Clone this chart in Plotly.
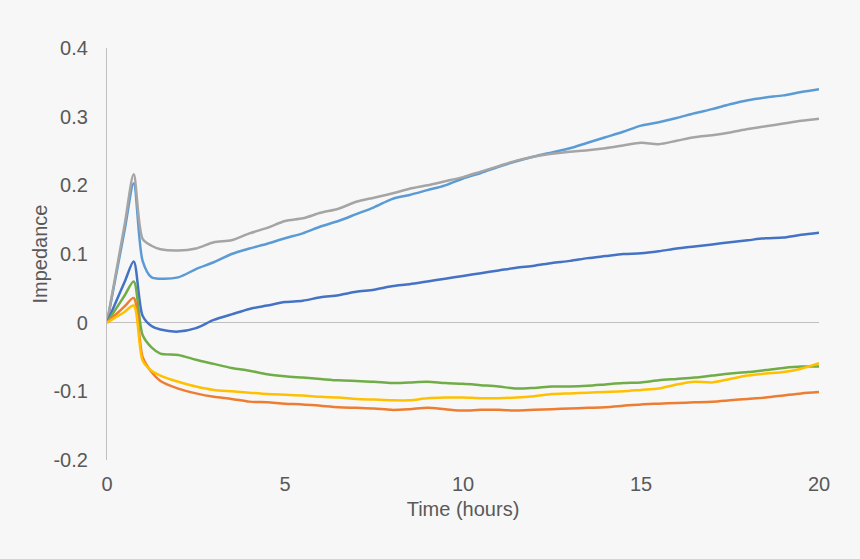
import plotly.graph_objects as go

hours = [0, 0.25, 0.5, 0.75, 1.0, 1.25, 1.5, 2, 2.5, 3, 3.5, 4, 4.5, 5, 5.5, 6, 6.5, 7, 7.5, 8,
         8.5, 9, 9.5, 10, 10.5, 11, 11.5, 12, 12.5, 13, 13.5, 14, 14.5, 15, 15.5, 16, 16.5, 17,
         17.5, 18, 18.5, 19, 19.5, 20]

light_blue = [0, 0.068, 0.136, 0.203, 0.09, 0.066, 0.064, 0.066, 0.078, 0.088, 0.1, 0.108, 0.115,
              0.123, 0.13, 0.14, 0.148, 0.158, 0.168, 0.18, 0.186, 0.193, 0.2, 0.21, 0.218, 0.227,
              0.235, 0.242, 0.248, 0.254, 0.262, 0.27, 0.278, 0.287, 0.292, 0.298, 0.305, 0.311,
              0.318, 0.324, 0.328, 0.331, 0.336, 0.34]

gray = [0, 0.072, 0.144, 0.216, 0.122, 0.112, 0.107, 0.105, 0.108, 0.117, 0.12, 0.13, 0.138, 0.148,
        0.152, 0.16, 0.166, 0.176, 0.182, 0.188, 0.195, 0.2, 0.206, 0.212, 0.22, 0.228, 0.236,
        0.242, 0.246, 0.249, 0.251, 0.254, 0.258, 0.262, 0.26, 0.265, 0.27, 0.273, 0.277, 0.282,
        0.286, 0.29, 0.294, 0.297]

dark_blue = [0, 0.03, 0.06, 0.089, 0.01, -0.005, -0.01, -0.013, -0.008, 0.004, 0.012, 0.02, 0.025,
             0.03, 0.032, 0.037, 0.04, 0.045, 0.048, 0.053, 0.056, 0.06, 0.064, 0.068, 0.072, 0.076,
             0.08, 0.083, 0.087, 0.09, 0.094, 0.097, 0.1, 0.101, 0.104, 0.108, 0.111, 0.114, 0.117,
             0.12, 0.123, 0.124, 0.128, 0.131]

green = [0, 0.02, 0.04, 0.06, -0.018, -0.036, -0.045, -0.047, -0.054, -0.06, -0.066, -0.07, -0.075,
         -0.078, -0.08, -0.082, -0.084, -0.085, -0.086, -0.088, -0.087, -0.086, -0.088, -0.089,
         -0.091, -0.093, -0.096, -0.095, -0.093, -0.093, -0.092, -0.09, -0.088, -0.087, -0.084,
         -0.082, -0.08, -0.077, -0.074, -0.072, -0.069, -0.066, -0.064, -0.064]

yellow = [0, 0.008, 0.016, 0.025, -0.055, -0.07, -0.077, -0.086, -0.093, -0.098, -0.1, -0.102,
          -0.104, -0.105, -0.106, -0.108, -0.109, -0.111, -0.112, -0.113, -0.113, -0.11, -0.109,
          -0.109, -0.11, -0.11, -0.109, -0.107, -0.104, -0.103, -0.102, -0.101, -0.1, -0.098,
          -0.096, -0.09, -0.086, -0.087, -0.082, -0.077, -0.074, -0.072, -0.067, -0.059]

orange = [0, 0.012, 0.024, 0.036, -0.05, -0.072, -0.085, -0.096, -0.103, -0.108, -0.111, -0.115,
          -0.116, -0.118, -0.119, -0.121, -0.123, -0.124, -0.125, -0.127, -0.126, -0.124, -0.126,
          -0.128, -0.127, -0.127, -0.128, -0.127, -0.126, -0.125, -0.124, -0.123, -0.121, -0.119,
          -0.118, -0.117, -0.116, -0.115, -0.113, -0.111, -0.109, -0.106, -0.103, -0.101]

series = [
    ("Series 1", light_blue, "#5B9BD5"),
    ("Series 2", gray, "#A5A5A5"),
    ("Series 3", dark_blue, "#4472C4"),
    ("Series 4", green, "#70AD47"),
    ("Series 5", orange, "#ED7D31"),
    ("Series 6", yellow, "#FFC000"),
]

y_ticks = [0.4, 0.3, 0.2, 0.1, 0, -0.1, -0.2]
y_tick_text = ["0.4", "0.3", "0.2", "0.1", "0", "-0.1", "-0.2"]
x_ticks = [0, 5, 10, 15, 20]

fig = go.Figure()
for name, vals, color in series:
    fig.add_trace(go.Scatter(x=hours, y=vals, mode="lines", name=name,
                             line=dict(color=color, width=2.5, shape="spline", smoothing=0.8)))

font_color = "#595959"
fig.update_layout(
    width=860, height=559,
    margin=dict(l=107, r=41, t=48, b=99),
    paper_bgcolor="#f7f7f7", plot_bgcolor="#f7f7f7",
    showlegend=False,
    font=dict(family="Liberation Sans, Arial, sans-serif", size=20, color=font_color),
    xaxis=dict(range=[0, 20], tickvals=x_ticks, showgrid=False, zeroline=False, showline=False,
               ticks="", ticklabelstandoff=10,
               title=dict(text="Time (hours)", standoff=7, font=dict(size=20, color=font_color))),
    yaxis=dict(range=[-0.2, 0.4], tickvals=y_ticks, ticktext=y_tick_text, showgrid=False,
               zeroline=True, zerolinecolor="#bfbfbf", zerolinewidth=1.3,
               showline=True, linecolor="#bfbfbf", linewidth=1.3, ticks="", ticklabelstandoff=14,
               title=dict(text="Impedance", standoff=0, font=dict(size=20, color=font_color))),
)

fig.write_html("out.html")
